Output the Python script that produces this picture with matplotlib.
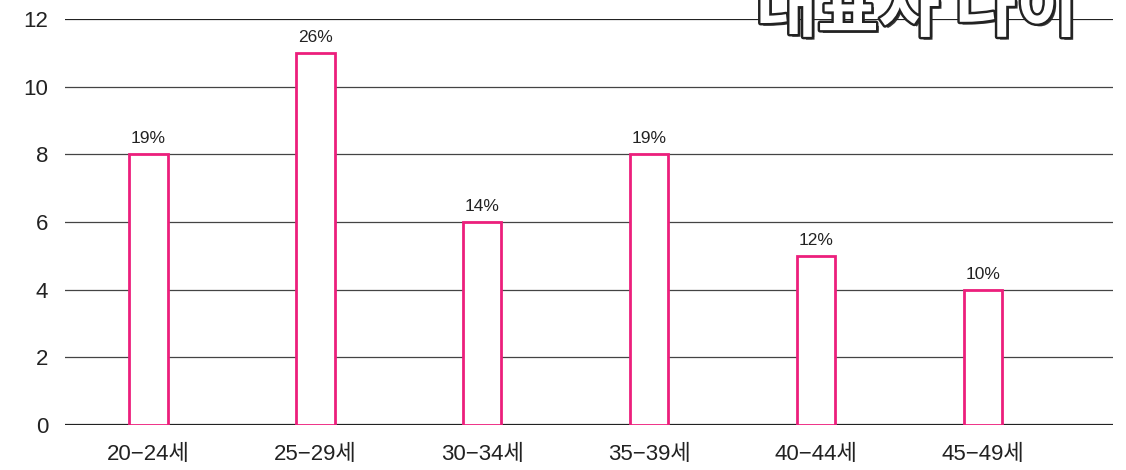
import matplotlib
matplotlib.use("Agg")
import matplotlib.pyplot as plt
import matplotlib.patheffects as pe

plt.rcParams['font.family'] = ['Liberation Sans', 'Noto Sans CJK KR', 'DejaVu Sans']

# data
age_groups = ["20-24세", "25-29세", "30-34세", "35-39세", "40-44세", "45-49세"]
counts = [8, 11, 6, 8, 5, 4]
shares = ["19%", "26%", "14%", "19%", "12%", "10%"]
yticks = [0, 2, 4, 6, 8, 10, 12]

PINK = "#EC1F7C"

fig = plt.figure(figsize=(11.26, 4.70), dpi=100)
ax = fig.add_axes([65 / 1126, 1 - 425 / 470, (1113 - 65) / 1126, (425 - 19) / 470])

# horizontal grid lines
for y in yticks:
    if y in (0, 12):
        ax.axhline(y, color="#222222", lw=1.6, zorder=1)
    else:
        ax.axhline(y, color="#444444", lw=0.9, zorder=1)

x = list(range(len(age_groups)))
ax.bar(x, counts, width=0.23, facecolor="white", edgecolor=PINK, linewidth=2, zorder=3)
for xi, c, s in zip(x, counts, shares):
    ax.text(xi, c + 0.24, s, ha="center", va="bottom", fontsize=12.5, color="#222222")

ax.set_xlim(-0.5, 5.78)
ax.set_ylim(0, 12)
ax.set_yticks(yticks)
ax.set_xticks(x)
ax.set_xticklabels([g.replace("-", "−") for g in age_groups])
ax.tick_params(axis="both", length=0, labelsize=16, colors="#222222")
ax.tick_params(axis="y", pad=12)
ax.tick_params(axis="x", pad=14)
for sp in ax.spines.values():
    sp.set_visible(False)

# title, cut off at the top of the image
fig.text(917 / 1126, 1 - 31 / 470, "대표자 나이", ha="center", va="baseline",
         fontsize=48, fontweight="heavy", color="white", family="Noto Sans CJK KR",
         path_effects=[pe.withSimplePatchShadow(offset=(2, -2), shadow_rgbFace="#222222", alpha=0.9),
                       pe.withStroke(linewidth=3.5, foreground="#222222")],
         zorder=10)

fig.savefig("out.png", dpi=100, facecolor="white")
